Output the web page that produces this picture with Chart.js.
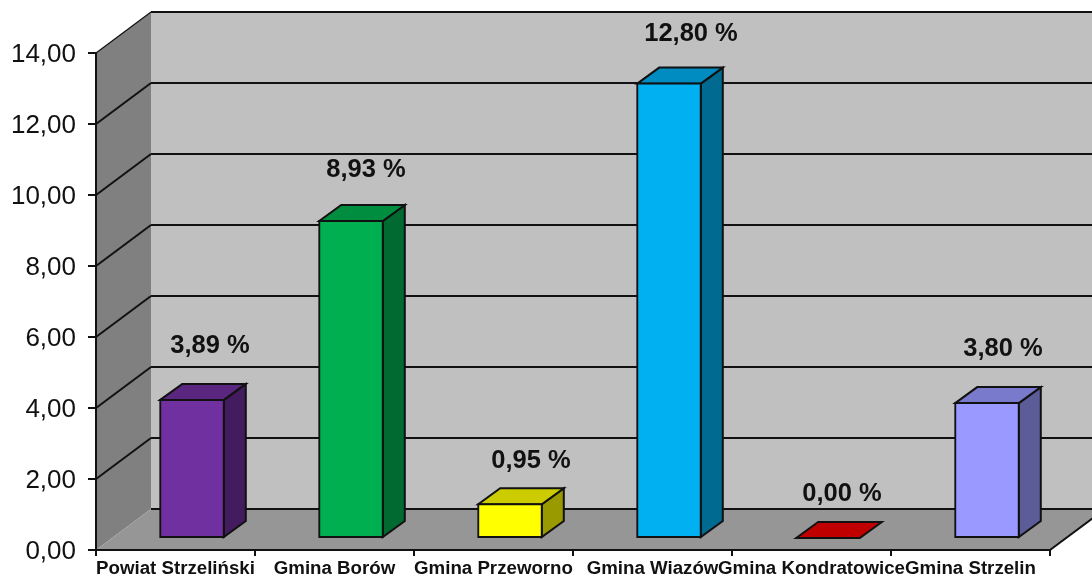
<!DOCTYPE html>
<html>
<head>
<meta charset="utf-8">
<title>Gminy</title>
<script src="https://cdn.jsdelivr.net/npm/chart.js@4"></script>
<style>
    html, body { margin: 0; padding: 0; background: #fff; overflow: hidden; }
    /* the source picture is a soft upscaled screenshot */
    canvas { display: block; filter: blur(0.5px); }
</style>
</head>
<body>
<canvas id="chart" width="1092" height="578"></canvas>
<script>
// Data
const categories = ['Powiat Strzeliński', 'Gmina Borów', 'Gmina Przeworno', 'Gmina Wiazów', 'Gmina Kondratowice', 'Gmina Strzelin'];
const values = [3.89, 8.93, 0.95, 12.80, 0.00, 3.80];
const yMax = 14;
const yStep = 2;

// Bar faces
const frontColors = ['#7030a0', '#00b050', '#ffff00', '#00b0f0', '#c00000', '#9999ff'];
const topColors = ['#5a2680', '#008d40', '#cccc00', '#008cc0', '#c00000', '#7a7acc'];
const sideColors = ['#431c60', '#006a30', '#999900', '#006a90', '#730000', '#5c5c99'];

// Hand placed value labels, relative to the front top of each bar
const labelShiftX = [18, 15, 21, 22, 14, 16];
const labelShiftY = [54, 51, 43, 50, 44, 54];

// 3D look: wall depth, bar offset on the floor, bar depth
const wall = { dx: 55, dy: -41 };
const barShift = { dx: 16.5, dy: -12 };
const barDepth = { dx: 22, dy: -16 };
const lineColor = '#111';

function fillPoly(ctx, pts, fill, stroke, lineWidth) {
    ctx.beginPath();
    pts.forEach((p, i) => i ? ctx.lineTo(p[0], p[1]) : ctx.moveTo(p[0], p[1]));
    ctx.closePath();
    if (fill) {
        ctx.fillStyle = fill;
        ctx.fill();
    }
    if (stroke) {
        ctx.strokeStyle = stroke;
        ctx.lineWidth = lineWidth;
        ctx.stroke();
    }
}

function line(ctx, x1, y1, x2, y2, width) {
    ctx.beginPath();
    ctx.moveTo(x1, y1);
    ctx.lineTo(x2, y2);
    ctx.strokeStyle = lineColor;
    ctx.lineWidth = width;
    ctx.stroke();
}

const wallsPlugin = {
    id: 'walls',
    beforeDraw(chart) {
        const { ctx, chartArea: a, scales: { y } } = chart;
        const backL = a.left + wall.dx, backR = a.right + wall.dx;
        const backT = a.top + wall.dy, backB = a.bottom + wall.dy;
        ctx.save();
        fillPoly(ctx, [[backL, backT], [backR, backT], [backR, backB], [backL, backB]], '#c0c0c0');
        fillPoly(ctx, [[a.left, a.top], [backL, backT], [backL, backB], [a.left, a.bottom]], '#808080');
        fillPoly(ctx, [[a.left, a.bottom], [backL, backB], [backR, backB], [a.right, a.bottom]], '#969696');
        // gridlines run along the side wall and across the back wall
        y.ticks.forEach(t => {
            const py = y.getPixelForValue(t.value);
            if (t.value > 0) {
                line(ctx, a.left, py, backL, py + wall.dy, t.value === yMax ? 1.2 : 2);
            }
            line(ctx, backL, py + wall.dy, backR, py + wall.dy, 2);
        });
        line(ctx, a.right, a.bottom, backR, backB, 2);
        ctx.restore();
    }
};

const bars3dPlugin = {
    id: 'bars3d',
    beforeDatasetDraw(chart, args) {
        const ctx = chart.ctx;
        ctx.save();
        ctx.translate(barShift.dx, barShift.dy);
        args.meta.data.forEach((bar, i) => {
            const l = bar.x - bar.width / 2, r = bar.x + bar.width / 2;
            const t = bar.y, b = bar.base;
            const dx = barDepth.dx, dy = barDepth.dy;
            if (b - t > 1) {
                fillPoly(ctx, [[r, t], [r + dx, t + dy], [r + dx, b + dy], [r, b]], sideColors[i], '#111', 2);
            }
            fillPoly(ctx, [[l, t], [l + dx, t + dy], [r + dx, t + dy], [r, t]], topColors[i], '#111', 2);
        });
    },
    afterDatasetDraw(chart) {
        chart.ctx.restore();
    },
    afterDatasetsDraw(chart) {
        const ctx = chart.ctx;
        const meta = chart.getDatasetMeta(0);
        ctx.save();
        ctx.font = 'bold 25.5px "Liberation Sans", Arial, sans-serif';
        ctx.fillStyle = '#111';
        ctx.textAlign = 'center';
        ctx.textBaseline = 'middle';
        meta.data.forEach((bar, i) => {
            const text = values[i].toFixed(2).replace('.', ',') + ' %';
            ctx.fillText(text, bar.x + barShift.dx + labelShiftX[i], bar.y + barShift.dy - labelShiftY[i]);
        });
        ctx.restore();
    }
};

new Chart(document.getElementById('chart'), {
    type: 'bar',
    data: {
        labels: categories,
        datasets: [{
            data: values,
            backgroundColor: frontColors,
            borderColor: '#111',
            borderWidth: 2,
            borderSkipped: false,
            inflateAmount: 1,
            barPercentage: 0.4,
            categoryPercentage: 1,
            clip: false
        }]
    },
    options: {
        responsive: false,
        animation: false,
        layout: { padding: { top: 53, right: 42, left: 0, bottom: 0 } },
        plugins: {
            legend: { display: false },
            tooltip: { enabled: false },
            title: { display: false }
        },
        scales: {
            x: {
                afterFit(scale) { scale.height = 28; },
                grid: { drawOnChartArea: false, color: lineColor, tickLength: 6, lineWidth: 2 },
                border: { color: lineColor, width: 2 },
                ticks: {
                    autoSkip: false,
                    maxRotation: 0,
                    padding: 2,
                    color: '#111',
                    font: { family: '"Liberation Sans", Arial, sans-serif', size: 18.7, weight: 'bold' }
                }
            },
            y: {
                min: 0,
                max: yMax,
                afterFit(scale) { scale.width = 96; },
                grid: { drawOnChartArea: false, color: lineColor, tickLength: 8, lineWidth: 2 },
                border: { color: lineColor, width: 2 },
                ticks: {
                    stepSize: yStep,
                    padding: 12,
                    labelOffset: 2,
                    color: '#111',
                    font: { family: '"Liberation Sans", Arial, sans-serif', size: 26 },
                    callback: value => value.toFixed(2).replace('.', ',')
                }
            }
        }
    },
    plugins: [wallsPlugin, bars3dPlugin]
});
</script>
</body>
</html>
